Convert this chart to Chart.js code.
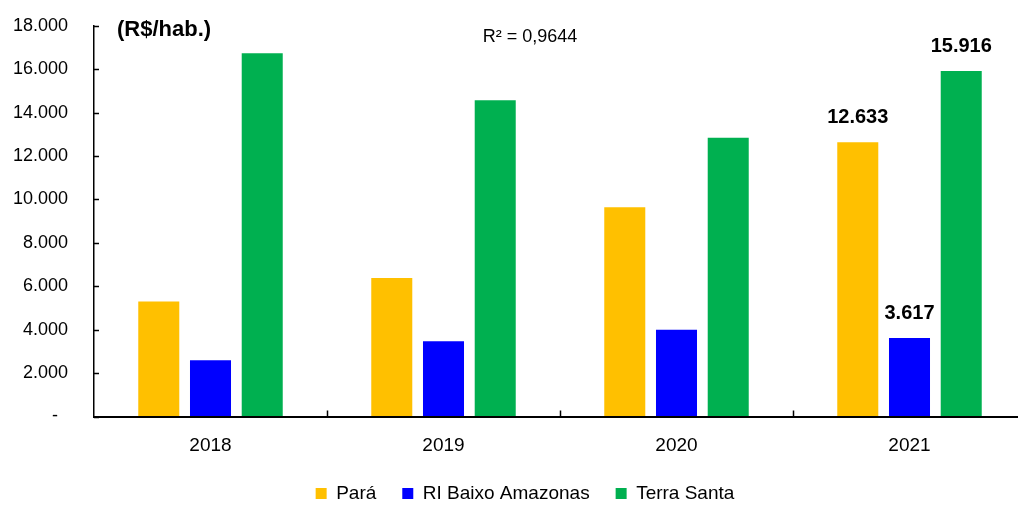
<!DOCTYPE html>
<html>
<head>
<meta charset="utf-8">
<script src="https://cdn.jsdelivr.net/npm/chart.js@4"></script>
<style>
  html, body { margin: 0; padding: 0; background: #fff; overflow: hidden; }
  #chart { display: block; margin-top: -11px; }
</style>
</head>
<body>
<canvas id="chart" width="1026" height="524"></canvas>
<script>
// Receita per capita (R$/hab.) — Pará x RI Baixo Amazonas x Terra Santa

const years       = ["2018", "2019", "2020", "2021"];
const para        = [5295, 6386, 9641, 12633];
const baixoAmaz   = [2597, 3471, 3992, 3617];
const terraSanta  = [16731, 14567, 12845, 15916];
const yTicks      = [0, 2000, 4000, 6000, 8000, 10000, 12000, 14000, 16000, 18000];
const labelYear   = "2021";   // only last year gets value labels
const unitText    = "(R$/hab.)";
const r2Text      = "R² = 0,9644";

const FONT = "'Liberation Sans', Arial, sans-serif";
const SHIFT = 11;   // canvas is pulled up by this much

function fmt(v) {
    if (v === 0) return "-  ";
    return String(Math.round(v)).replace(/\B(?=(\d{3})+(?!\d))/g, ".");
}

// inward tick marks, value labels on last year, and free texts
const extras = {
    id: "extras",
    afterLayout(chart) {
        // nudge legend a bit to the right, like the original
        if (chart.legend) {
            chart.legend.left  += 12;
            chart.legend.right += 12;
        }
    },
    afterDatasetsDraw(chart) {
        const { ctx, chartArea, scales } = chart;
        const x = scales.x, y = scales.y;
        ctx.save();
        ctx.strokeStyle = "#000";
        ctx.lineWidth = 1.5;

        // y ticks pointing into the plot
        yTicks.forEach(v => {
            const py = Math.round(y.getPixelForValue(v)) + 0.5;
            ctx.beginPath();
            ctx.moveTo(chartArea.left, py);
            ctx.lineTo(chartArea.left + 5, py);
            ctx.stroke();
        });

        // x ticks at category boundaries
        for (let i = 0; i < years.length - 1; i++) {
            const px = Math.round((x.getPixelForValue(i) + x.getPixelForValue(i + 1)) / 2) + 0.5;
            ctx.beginPath();
            ctx.moveTo(px, chartArea.bottom);
            ctx.lineTo(px, chartArea.bottom - 6);
            ctx.stroke();
        }

        // value labels
        const idx = years.indexOf(labelYear);
        ctx.fillStyle = "#000";
        ctx.font = "bold 20px " + FONT;
        ctx.textAlign = "center";
        ctx.textBaseline = "alphabetic";
        chart.data.datasets.forEach((ds, di) => {
            const bar = chart.getDatasetMeta(di).data[idx];
            ctx.fillText(fmt(ds.data[idx]), bar.x, bar.y - 19);
        });

        // unit and R² texts
        ctx.font = "bold 22px " + FONT;
        ctx.textAlign = "left";
        ctx.textBaseline = "middle";
        ctx.fillText(unitText, 117, 30 + SHIFT);

        ctx.font = "18px " + FONT;
        ctx.textAlign = "center";
        ctx.fillText(r2Text, 530, 37 + SHIFT);
        ctx.restore();
    }
};

new Chart(document.getElementById("chart"), {
    type: "bar",
    data: {
        labels: years,
        datasets: [
            { label: "Pará",              data: para,       backgroundColor: "#FFC000" },
            { label: "RI Baixo Amazonas", data: baixoAmaz,  backgroundColor: "#0000FF" },
            { label: "Terra Santa",       data: terraSanta, backgroundColor: "#00B050" },
        ]
    },
    options: {
        responsive: false,
        animation:  false,
        datasets: {
            bar: { categoryPercentage: 0.666, barPercentage: 0.793 }
        },
        layout: { padding: { top: 15, right: 0, bottom: 0, left: 0 } },
        scales: {
            x: {
                grid:   { drawOnChartArea: false, drawTicks: false },
                border: { color: "#000", width: 2 },
                ticks:  { color: "#000", font: { family: FONT, size: 19 }, padding: 18 },
                afterFit: s => { s.height = 41.5; },
            },
            y: {
                min: 0,
                max: 18000,
                afterBuildTicks: s => { s.ticks = yTicks.map(v => ({ value: v })); },
                grid:   { drawOnChartArea: false, drawTicks: false },
                border: { color: "#000", width: 1.5 },
                ticks:  {
                    color: "#000",
                    font: { family: FONT, size: 18 },
                    padding: 26,
                    callback: v => fmt(v),
                },
                afterFit: s => { s.width = 94; },
            }
        },
        plugins: {
            legend: {
                position: "bottom",
                labels: {
                    color: "#000",
                    font: { family: FONT, size: 19 },
                    boxWidth: 11,
                    boxHeight: 11,
                    padding: 26,
                }
            },
            tooltip: { enabled: false },
        }
    },
    plugins: [extras]
});
</script>
</body>
</html>
